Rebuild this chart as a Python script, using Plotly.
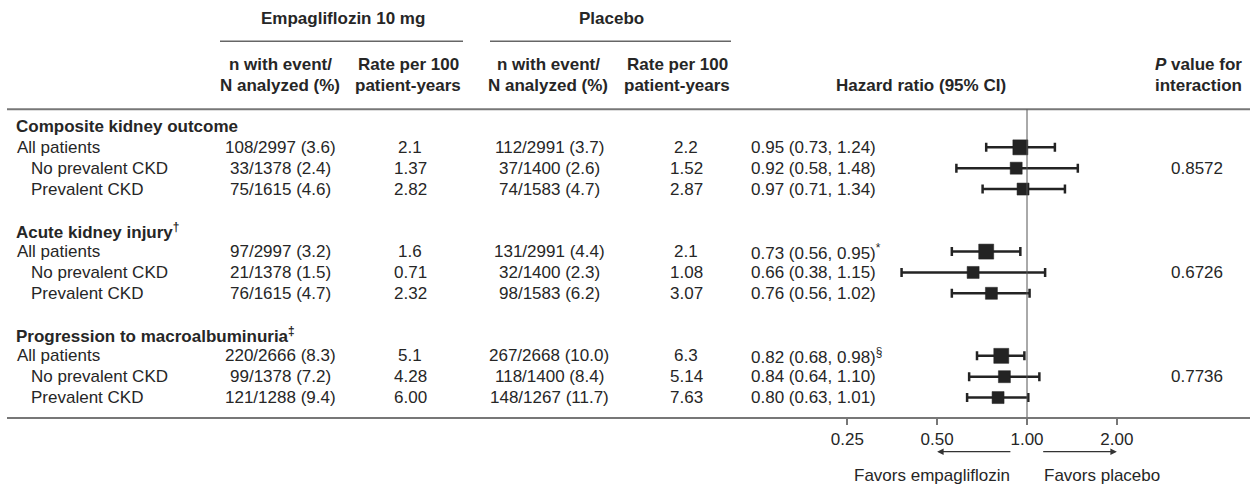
import math
import plotly.graph_objects as go

# ---- data -------------------------------------------------------------
outcomes = [
    "Composite kidney outcome",
    "Acute kidney injury<sup>†</sup>",
    "Progression to macroalbuminuria<sup>‡</sup>",
]
subgroups = ["All patients", "No prevalent CKD", "Prevalent CKD"]

empa_n = [
    "108/2997 (3.6)", "33/1378 (2.4)", "75/1615 (4.6)",
    "97/2997 (3.2)", "21/1378 (1.5)", "76/1615 (4.7)",
    "220/2666 (8.3)", "99/1378 (7.2)", "121/1288 (9.4)",
]
empa_rate = ["2.1", "1.37", "2.82", "1.6", "0.71", "2.32", "5.1", "4.28", "6.00"]
placebo_n = [
    "112/2991 (3.7)", "37/1400 (2.6)", "74/1583 (4.7)",
    "131/2991 (4.4)", "32/1400 (2.3)", "98/1583 (6.2)",
    "267/2668 (10.0)", "118/1400 (8.4)", "148/1267 (11.7)",
]
placebo_rate = ["2.2", "1.52", "2.87", "2.1", "1.08", "3.07", "6.3", "5.14", "7.63"]
hr = [0.95, 0.92, 0.97, 0.73, 0.66, 0.76, 0.82, 0.84, 0.80]
hr_low = [0.73, 0.58, 0.71, 0.56, 0.38, 0.56, 0.68, 0.64, 0.63]
hr_high = [1.24, 1.48, 1.34, 0.95, 1.15, 1.02, 0.98, 1.10, 1.01]
hr_note = ["", "", "", "*", "", "", "§", "", ""]
p_interaction = ["0.8572", "0.6726", "0.7736"]

tick_vals = [0.25, 0.5, 1.0, 2.0]
tick_text = ["0.25", "0.50", "1.00", "2.00"]

# ---- layout geometry --------------------------------------------------
W, H = 1250, 485
FONT = "Arial, 'Liberation Sans', Helvetica, sans-serif"
TXT = "#262626"
MARK = "#232323"
FS = 17

X_LEFT = 7          # left end of the axis line (px)
X_ONE = 1027        # pixel of HR = 1
PPD = 298.5         # pixels per log10 decade
r0 = -(X_ONE - X_LEFT) / PPD
r1 = r0 + (W - X_LEFT) / PPD

ROW0 = 126.5        # pixel centre of the first row
ROW_H = 20.85       # row pitch
AXIS_Y = 417        # pixel of the x-axis line
y_top = -ROW0 / ROW_H
y_bot = (AXIS_Y - ROW0) / ROW_H


def px(p):
    return p / W


def py(p):
    return 1 - p / H


def xpix(v):
    return X_LEFT + (math.log10(v) - r0) * PPD


# row indices: heading, three subgroup rows, blank spacer
row_idx = []
head_idx = []
for g in range(len(outcomes)):
    head_idx.append(g * 5)
    row_idx.extend([g * 5 + 1, g * 5 + 2, g * 5 + 3])

fig = go.Figure()

# confidence intervals + squares
sizes = [15 if i % 3 == 0 else 12 for i in range(len(hr))]
fig.add_trace(go.Scatter(
    x=hr,
    y=row_idx,
    mode="markers",
    opacity=1,
    marker=dict(symbol="square", size=sizes, color=MARK, opacity=1,
                line=dict(width=0.5, color=MARK)),
    error_x=dict(
        type="data", symmetric=False,
        array=[h - m for h, m in zip(hr_high, hr)],
        arrayminus=[m - l for m, l in zip(hr, hr_low)],
        color=MARK, thickness=2.5, width=4.5,
    ),
    hoverinfo="skip",
    showlegend=False,
    cliponaxis=False,
))

ann = []


def text(x, y, s, anchor="center", yref="paper", bold=False, size=FS):
    ann.append(dict(
        x=x, y=y, xref="paper", yref=yref, text=f"<b>{s}</b>" if bold else s,
        showarrow=False, xanchor=anchor, yanchor="middle",
        font=dict(family=FONT, size=size, color=TXT),
    ))


# column headings
text(px(343), py(19), "Empagliflozin 10 mg", bold=True)
text(px(611.5), py(19), "Placebo", bold=True)
for cx in (280, 548):
    text(px(cx), py(65), "n with event/", bold=True)
    text(px(cx), py(85), "N analyzed (%)", bold=True)
for cx in (408, 677):
    text(px(cx), py(65), "Rate per 100", bold=True)
    text(px(cx), py(85), "patient-years", bold=True)
text(px(921), py(85), "Hazard ratio (95% CI)", bold=True)
text(px(1153), py(65), "<i>P</i> value for", anchor="left", bold=True)
text(px(1153), py(85), "interaction", anchor="left", bold=True)

# outcome headings
for g, name in enumerate(outcomes):
    text(px(14), head_idx[g], name, anchor="left", yref="y", bold=True)
    text(px(1196.5), head_idx[g] + 2, p_interaction[g], yref="y")

# table rows
for i, r in enumerate(row_idx):
    label = subgroups[i % 3]
    text(px(15 if i % 3 == 0 else 29), r, label, anchor="left", yref="y")
    text(px(280), r, empa_n[i], yref="y")
    text(px(410), r, empa_rate[i], yref="y")
    text(px(549), r, placebo_n[i], yref="y")
    text(px(686), r, placebo_rate[i], yref="y")
    hr_label = f"{hr[i]:.2f} ({hr_low[i]:.2f}, {hr_high[i]:.2f})"
    if hr_note[i]:
        hr_label += f"<sup>{hr_note[i]}</sup>"
    text(px(749), r, hr_label, anchor="left", yref="y")

# direction arrows and captions
ARROW_Y = 451.7
for tail, head in ((0.89, 0.5), (1.12, 2.0)):
    ann.append(dict(
        x=px(xpix(head)), y=py(ARROW_Y), xref="paper", yref="paper",
        ax=xpix(tail) - xpix(head), ay=0, axref="pixel", ayref="pixel",
        text="", showarrow=True, arrowhead=2, arrowsize=1, arrowwidth=1.3,
        arrowcolor="#333333", standoff=0, startstandoff=0,
    ))
text(px(931.7), py(475), "Favors empagliflozin")
text(px(1101.7), py(475), "Favors placebo")

shapes = [
    # rule under the column headings
    dict(type="line", xref="paper", yref="paper", x0=px(X_LEFT), x1=1,
         y0=py(109.3), y1=py(109.3), line=dict(color="#777777", width=2)),
    # group underlines
    dict(type="line", xref="paper", yref="paper", x0=px(220), x1=px(463),
         y0=py(41.3), y1=py(41.3), line=dict(color="#666666", width=1.5)),
    dict(type="line", xref="paper", yref="paper", x0=px(490), x1=px(731),
         y0=py(41.3), y1=py(41.3), line=dict(color="#666666", width=1.5)),
    # line of no effect
    dict(type="line", xref="paper", yref="paper", x0=px(xpix(1.0)), x1=px(xpix(1.0)),
         y0=py(109.3), y1=py(AXIS_Y), line=dict(color="#555555", width=1)),
]

fig.update_layout(
    width=W, height=H,
    margin=dict(l=0, r=0, t=0, b=0),
    paper_bgcolor="white", plot_bgcolor="white",
    showlegend=False,
    annotations=ann,
    shapes=shapes,
    xaxis=dict(
        type="log", range=[r0, r1], domain=[px(X_LEFT), 1],
        tickvals=tick_vals, ticktext=tick_text,
        ticks="outside", ticklen=6, tickwidth=1.5, tickcolor="#777777",
        showline=True, linecolor="#777777", linewidth=2,
        showgrid=False, zeroline=False,
        tickfont=dict(family=FONT, size=FS, color=TXT),
        fixedrange=True,
    ),
    yaxis=dict(
        range=[y_bot, y_top], domain=[py(AXIS_Y), 1],
        visible=False, showgrid=False, zeroline=False, fixedrange=True,
    ),
)

fig.write_html("out.html")
